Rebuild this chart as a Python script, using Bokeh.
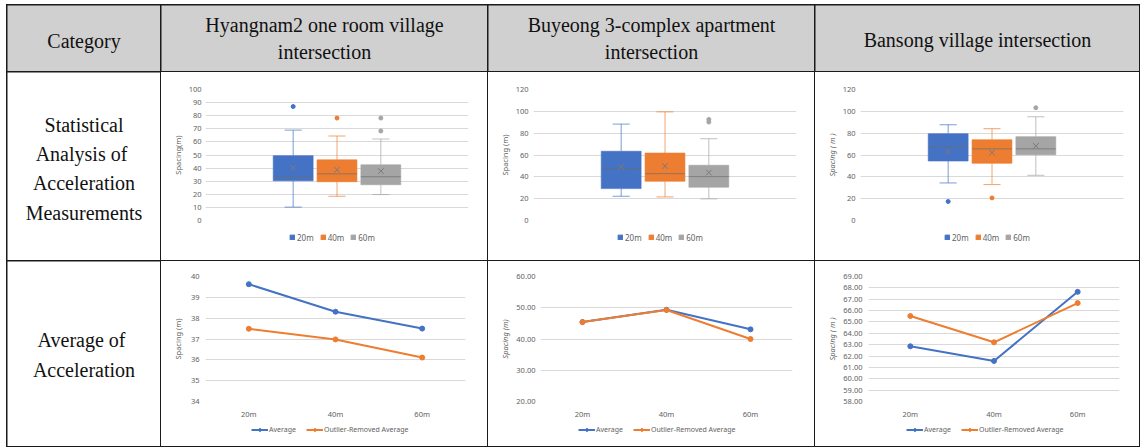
from bokeh.plotting import figure
from bokeh.models import (Range1d, FactorRange, GridBox, Legend, LegendItem,
                          FixedTicker, NumeralTickFormatter, Spacer)
from bokeh.layouts import row, column
from bokeh.embed import file_html
from bokeh.resources import INLINE
from bokeh.core.properties import value
import numpy as np

# ---------------- data ----------------
series = ["20m", "40m", "60m"]
colors = ["#4472C4", "#ED7D31", "#A5A5A5"]

header_cat = "Category"
header_sites = [["Hyangnam2 one room village", "intersection"],
                ["Buyeong 3-complex apartment", "intersection"],
                ["Bansong village intersection"]]
row_label_box = ["Statistical", "Analysis  of", "Acceleration", "Measurements"]
row_label_line = ["Average  of", "Acceleration"]

# Hyangnam2 box plot
hy_low = [10.2, 18.5, 19.8]
hy_q1 = [30.3, 29.6, 27.3]
hy_med = [33.6, 35.6, 33.4]
hy_q3 = [49.5, 46.3, 42.5]
hy_high = [69.0, 64.5, 62.2]
hy_mean = [40.3, 38.7, 37.7]
hy_out_s = [0, 1, 2, 2]
hy_out_v = [87.0, 78.2, 78.2, 68.3]

# Buyeong 3-complex box plot
by_low = [22.2, 21.6, 19.8]
by_q1 = [29.2, 35.9, 30.5]
by_med = [46.9, 42.9, 40.2]
by_q3 = [63.4, 61.8, 50.6]
by_high = [88.3, 99.5, 74.9]
by_mean = [49.3, 49.8, 43.9]
by_out_s = [2, 2]
by_out_v = [90.2, 92.6]

# Bansong box plot
bs_low = [34.4, 32.9, 41.4]
bs_q1 = [54.5, 52.4, 60.3]
bs_med = [67.4, 65.6, 65.6]
bs_q3 = [79.5, 74.0, 76.8]
bs_high = [87.7, 84.1, 95.0]
bs_mean = [63.2, 62.2, 68.3]
bs_out_s = [0, 1, 2]
bs_out_v = [17.4, 20.7, 103.3]

# Average line charts
hy_avg = [39.63, 38.31, 37.50]
hy_rem = [37.49, 36.98, 36.11]
by_avg = [45.43, 49.36, 43.09]
by_rem = [45.43, 49.26, 40.00]
bs_avg = [62.86, 61.57, 67.65]
bs_rem = [65.52, 63.21, 66.66]
line_names = ["Average", "Outlier-Removed Average"]

# ---------------- style ----------------
col_w = [153, 326, 326, 324]
row_h = [66, 188, 185]
HEAD_BG = "#d0d0d0"
SERIF = "Liberation Serif"
SANS = "Noto Sans"
TICK_C = "#626262"
GRID_C = "#d9d9d9"
FS = "7.5px"


def base_fig(w, h, **kw):
    return figure(width=w, height=h, toolbar_location=None, output_backend="svg",
                  title=None, frame_align=False, **kw)


def text_cell(w, h, lines, xs, ys, bg, size):
    p = base_fig(w, h, x_range=Range1d(0, w), y_range=Range1d(h, 0),
                 x_axis_type=None, y_axis_type=None, min_border=0)
    p.background_fill_color = bg
    p.border_fill_color = bg
    p.outline_line_color = None
    p.text(x=xs, y=ys, text=lines, text_font=value(SERIF), text_font_size=size,
           text_align="center", text_baseline="alphabetic", text_color="#111111")
    return p


def style_yaxis(p, ticks, fmt, label, italic, std, lstd):
    ax = p.yaxis[0]
    ax.ticker = FixedTicker(ticks=ticks)
    if fmt:
        ax.formatter = NumeralTickFormatter(format=fmt)
    ax.axis_line_color = None
    ax.major_tick_line_color = None
    ax.minor_tick_line_color = None
    ax.major_tick_out = 0
    ax.major_tick_in = 0
    ax.major_label_standoff = std
    ax.major_label_text_font = SANS
    ax.major_label_text_font_size = FS
    ax.major_label_text_color = TICK_C
    ax.axis_label = label
    ax.axis_label_text_font = SANS
    ax.axis_label_text_font_size = FS
    ax.axis_label_text_color = TICK_C
    ax.axis_label_text_font_style = "italic" if italic else "normal"
    ax.axis_label_standoff = lstd
    p.ygrid.grid_line_color = GRID_C
    p.ygrid.ticker = FixedTicker(ticks=ticks)


def make_legend(p, items, x, y, gw, gh, standoff, spacing, fs):
    p.add_layout(Legend(items=items, orientation="horizontal", location=(x, y),
                        glyph_width=gw, glyph_height=gh, label_standoff=standoff,
                        label_width=0, spacing=spacing, padding=0, margin=0,
                        border_line_color=None, background_fill_alpha=0,
                        label_text_font=SANS, label_text_font_size=fs,
                        label_text_color=TICK_C))


def legend_base(w, h):
    # legend-only strip; proxy glyphs hold the series data but lie outside the view
    p = base_fig(w, h, x_range=Range1d(-10, -9), y_range=Range1d(-10, -9),
                 x_axis_type=None, y_axis_type=None, min_border=0)
    p.outline_line_color = None
    return p


def box_cell(w, h, left, right, top, ymax, step, low, q1, med, q3, high,
             mean, out_s, out_v, label, italic, std):
    ch = 153
    p = base_fig(w, ch, x_range=Range1d(-3, 3), y_range=Range1d(0, ymax),
                 x_axis_type=None, min_border_left=left, min_border_right=right,
                 min_border_top=top, min_border_bottom=5)
    p.outline_line_color = None
    style_yaxis(p, list(range(0, ymax + 1, step)), None, label, italic, std, 3)
    pos = np.arange(len(series)) - 1.0
    bw, cw = 0.91, 0.39
    lg = legend_base(w, h - ch)
    items = []
    for i in range(len(series)):
        c = colors[i]
        p.segment(x0=[pos[i]], y0=[q3[i]], x1=[pos[i]], y1=[high[i]], line_color=c,
                  line_alpha=0.7, line_width=1)
        p.segment(x0=[pos[i]], y0=[q1[i]], x1=[pos[i]], y1=[low[i]], line_color=c,
                  line_alpha=0.7, line_width=1)
        p.segment(x0=[pos[i] - cw / 2, pos[i] - cw / 2], y0=[high[i], low[i]],
                  x1=[pos[i] + cw / 2, pos[i] + cw / 2], y1=[high[i], low[i]],
                  line_color=c, line_alpha=0.7, line_width=1)
        p.vbar(x=[pos[i]], top=[q3[i]], bottom=[q1[i]], width=bw, fill_color=c,
               line_color=c, line_alpha=0.6)
        p.segment(x0=[pos[i] - bw / 2], y0=[med[i]], x1=[pos[i] + bw / 2], y1=[med[i]],
                  line_color="#6f6f6f", line_alpha=0.7, line_width=1)
        p.scatter(x=[pos[i]], y=[mean[i]], marker="x", size=8, line_color="#7a7a7a",
                  line_width=1)
        ov = [v for s, v in zip(out_s, out_v) if s == i]
        if ov:
            p.scatter(x=[pos[i]] * len(ov), y=ov, marker="circle", size=4,
                      fill_color=c, line_color=c)
        r = lg.vbar(x=[pos[i]], top=[q3[i]], bottom=[q1[i]], width=bw, fill_color=c,
                    line_color=c)
        items.append(LegendItem(label=series[i], renderers=[r]))
    make_legend(lg, items, left + 84, 17.5, 6, 6, 2, 6, "8px")
    return column(p, lg, spacing=0, styles={"background-color": "white"})


def line_cell(w, h, left, right, top, y0, y1, ticks, fmt, avg, rem, label,
              italic, std, lstd, legx):
    ch = 160
    p = base_fig(w, ch, x_range=FactorRange(*series), y_range=Range1d(y0, y1),
                 min_border_left=left, min_border_right=right, min_border_top=top,
                 min_border_bottom=20)
    p.outline_line_color = None
    style_yaxis(p, ticks, fmt, label, italic, std, lstd)
    xa = p.xaxis[0]
    xa.axis_line_color = None
    xa.major_tick_line_color = None
    xa.major_tick_out = 0
    xa.major_tick_in = 0
    xa.major_label_standoff = 7
    xa.major_label_text_font = SANS
    xa.major_label_text_font_size = FS
    xa.major_label_text_color = TICK_C
    p.xgrid.visible = False
    lg = legend_base(w, h - ch)
    idx = np.arange(len(series))
    items = []
    for vals, c, name in zip([avg, rem], colors[:2], line_names):
        p.line(x=series, y=vals, line_color=c, line_width=2)
        p.scatter(x=series, y=vals, marker="circle", size=5, fill_color=c,
                  line_color=c)
        l = lg.line(x=idx, y=vals, line_color=c, line_width=2)
        s = lg.scatter(x=idx, y=vals, marker="circle", size=5, fill_color=c,
                       line_color=c)
        items.append(LegendItem(label=name, renderers=[l, s]))
    make_legend(lg, items, left + legx, 12.5, 17, 7, 1, 10, "7px")
    return column(p, lg, spacing=0, styles={"background-color": "white"})


cells = []
# header row
cells.append((text_cell(col_w[0], row_h[0], [header_cat], [col_w[0] / 2], [35],
                        HEAD_BG, "20px"), 0, 0))
for j, lines in enumerate(header_sites):
    w = col_w[j + 1]
    ys = [19, 46] if len(lines) == 2 else [34]
    cells.append((text_cell(w, row_h[0], lines, [w / 2] * len(lines), ys, HEAD_BG,
                            "20px"), 0, j + 1))
# row labels
cells.append((text_cell(col_w[0], row_h[1], row_label_box, [col_w[0] / 2] * 4,
                        [52, 81, 110, 140], "white", "20px"), 1, 0))
cells.append((text_cell(col_w[0], row_h[2], row_label_line, [col_w[0] / 2] * 2,
                        [78, 108], "white", "20px"), 2, 0))

# box plots
cells.append((box_cell(col_w[1], row_h[1], 44, 19, 17, 100, 10, hy_low, hy_q1,
                       hy_med, hy_q3, hy_high, hy_mean, hy_out_s, hy_out_v,
                       "Spacing(m)", False, 4), 1, 1))
cells.append((box_cell(col_w[2], row_h[1], 45, 18, 17, 120, 20, by_low, by_q1,
                       by_med, by_q3, by_high, by_mean, by_out_s, by_out_v,
                       "Spacing (m)", False, 5), 1, 2))
cells.append((box_cell(col_w[3], row_h[1], 45, 16, 17, 120, 20, bs_low, bs_q1,
                       bs_med, bs_q3, bs_high, bs_mean, bs_out_s, bs_out_v,
                       "Spacing ( m )", True, 5), 1, 3))

# line charts
cells.append((line_cell(col_w[1], row_h[2], 44, 22, 15, 34, 40,
                        list(range(34, 41)), None, hy_avg, hy_rem, "Spacing (m)",
                        False, 6, 5, 46), 2, 1))
cells.append((line_cell(col_w[2], row_h[2], 52, 22, 15, 20, 60,
                        list(range(20, 61, 10)), "0.00", by_avg, by_rem,
                        "Spacing (m)", True, 5, 3, 38), 2, 2))
cells.append((line_cell(col_w[3], row_h[2], 53, 20, 15, 58, 69,
                        list(range(58, 70)), "0.00", bs_avg, bs_rem,
                        "Spacing ( m )", True, 6, 3, 38), 2, 3))

grid = GridBox(children=cells, spacing=1,
               styles={"background-color": "#1a1a1a", "border": "1px solid #1a1a1a"})

root = row(Spacer(width=6, height=10), column(Spacer(width=10, height=4), grid))

open("out.html", "w").write(file_html(root, INLINE))
